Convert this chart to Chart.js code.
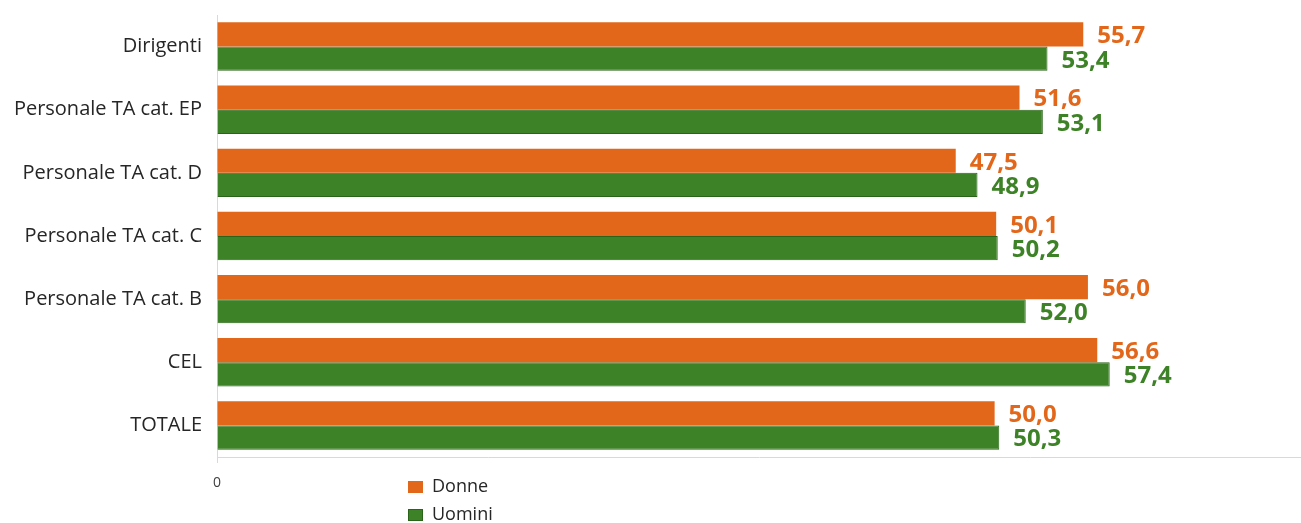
<!DOCTYPE html>
<html>
<head>
<meta charset="utf-8">
<script src="https://cdn.jsdelivr.net/npm/chart.js@4/dist/chart.umd.min.js"></script>
<style>
  html, body { margin: 0; padding: 0; background: #ffffff; }
  #wrap { width: 1301px; height: 523px; position: relative; }
</style>
</head>
<body>
<div id="wrap"><canvas id="c" width="1301" height="523"></canvas></div>
<script>
// Categories (top to bottom) and the two series
const categories = ['Dirigenti', 'Personale TA cat. EP', 'Personale TA cat. D', 'Personale TA cat. C', 'Personale TA cat. B', 'CEL', 'TOTALE'];
const donne  = [55.7, 51.6, 47.5, 50.1, 56.0, 56.6, 50.0];
const uomini = [53.4, 53.1, 48.9, 50.2, 52.0, 57.4, 50.3];
const seriesNames = ['Donne', 'Uomini'];
const xTickValues = [0];

const ORANGE = '#e2671a';
const GREEN = '#3d8226';
const GREEN_EDGE = '#2a6418';
const FONT = '"Open Sans", "DejaVu Sans", sans-serif';

// Value labels to the right of each bar, Italian decimal comma
const valueLabels = {
  id: 'valueLabels',
  afterDatasetsDraw(chart) {
    const ctx = chart.ctx;
    ctx.save();
    ctx.font = 'bold 24px ' + FONT;
    ctx.textAlign = 'left';
    ctx.textBaseline = 'middle';
    chart.data.datasets.forEach((ds, i) => {
      const meta = chart.getDatasetMeta(i);
      ctx.fillStyle = ds.labelColor;
      meta.data.forEach((el, j) => {
        const txt = ds.data[j].toFixed(1).replace('.', ',');
        ctx.fillText(txt, el.x + 14, el.y + 2);
      });
    });
    ctx.restore();
  }
};

// Vertical legend under the plot
const stackedLegend = {
  id: 'stackedLegend',
  afterDraw(chart) {
    const ctx = chart.ctx;
    ctx.save();
    ctx.font = '18px ' + FONT;
    ctx.textBaseline = 'middle';
    ctx.textAlign = 'left';
    chart.data.datasets.forEach((ds, i) => {
      const y = 487 + i * 28;
      ctx.fillStyle = ds.backgroundColor;
      ctx.fillRect(408, y - 6, 15, 12);
      if (ds.borderWidth) {
        ctx.strokeStyle = ds.borderColor;
        ctx.lineWidth = 1;
        ctx.strokeRect(408.5, y - 5.5, 14, 11);
      }
      ctx.fillStyle = '#262626';
      ctx.fillText(ds.label, 432, y);
    });
    ctx.restore();
  }
};

new Chart(document.getElementById('c'), {
  type: 'bar',
  data: {
    labels: categories,
    datasets: [
      {
        label: seriesNames[0],
        data: donne,
        backgroundColor: ORANGE,
        borderWidth: 0,
        labelColor: ORANGE
      },
      {
        label: seriesNames[1],
        data: uomini,
        backgroundColor: GREEN,
        borderColor: GREEN_EDGE,
        borderWidth: 1,
        borderSkipped: 'start',
        labelColor: GREEN
      }
    ]
  },
  options: {
    indexAxis: 'y',
    responsive: false,
    animation: false,
    layout: { padding: { top: 15, right: 0, bottom: 0, left: 0 } },
    datasets: {
      bar: { barPercentage: 1.0, categoryPercentage: 0.767 }
    },
    scales: {
      x: {
        min: 0,
        max: 69.7,
        afterBuildTicks(axis) { axis.ticks = xTickValues.map(v => ({ value: v })); },
        afterFit(scale) { scale.height = 66; scale.paddingLeft = 0; scale.paddingRight = 0; },
        grid: { display: true, drawOnChartArea: false, drawTicks: true, tickLength: 6, color: '#d9d9d9' },
        border: { display: true, color: '#d9d9d9', width: 1 },
        ticks: { color: '#404040', font: { family: FONT, size: 14 }, padding: 12, maxRotation: 0 }
      },
      y: {
        afterFit(scale) { scale.width = 217; scale.paddingTop = 0; scale.paddingBottom = 0; },
        grid: { display: false, drawTicks: false },
        border: { display: true, color: '#d9d9d9', width: 1 },
        ticks: { color: '#262626', font: { family: FONT, size: 20 }, padding: 15 }
      }
    },
    plugins: {
      legend: { display: false },
      tooltip: { enabled: false }
    }
  },
  plugins: [valueLabels, stackedLegend]
});
</script>
</body>
</html>
